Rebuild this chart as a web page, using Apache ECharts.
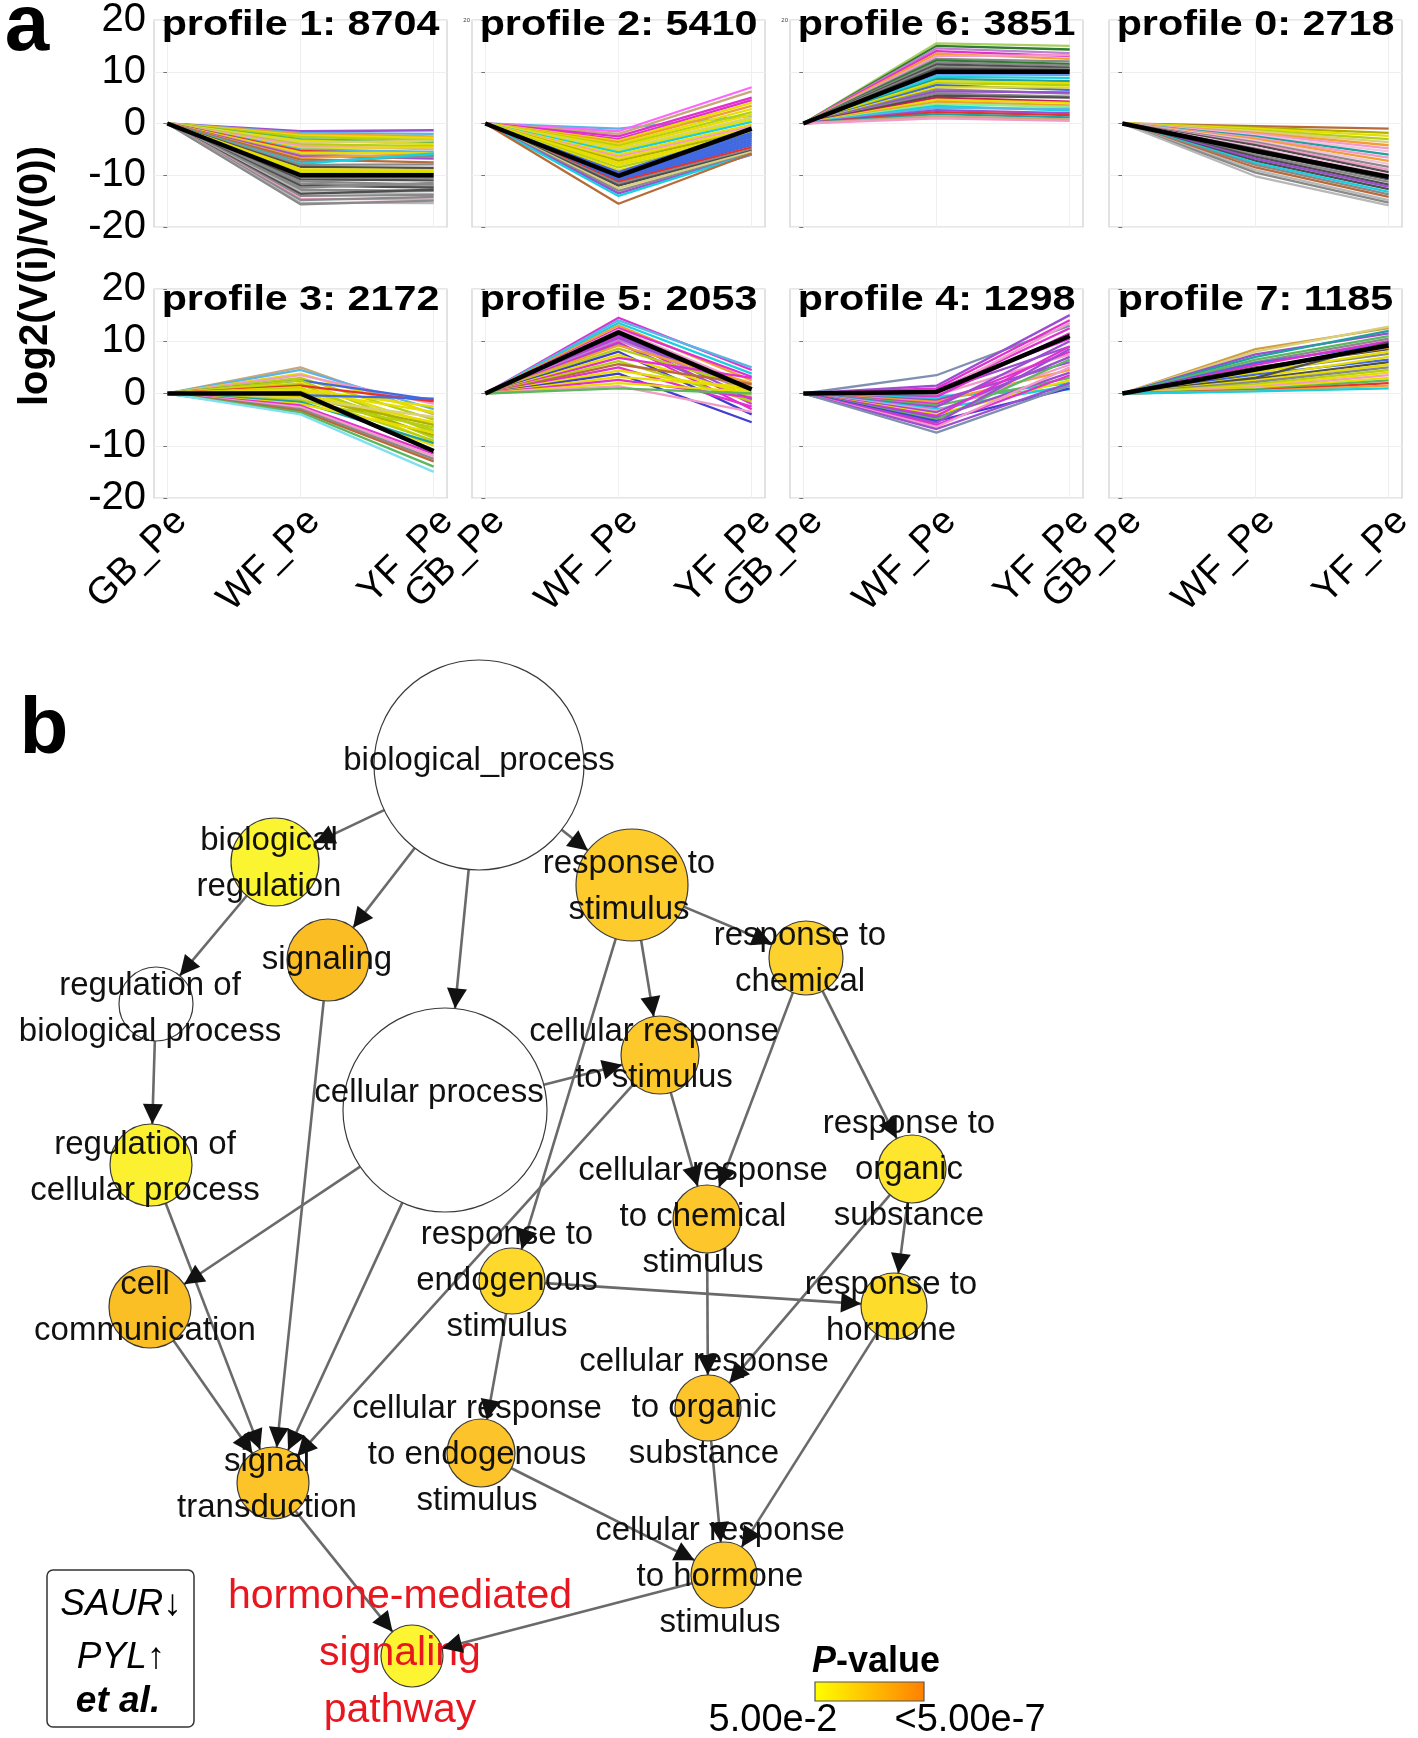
<!DOCTYPE html>
<html><head><meta charset="utf-8">
<script src="https://cdn.jsdelivr.net/npm/echarts@6/dist/echarts.min.js"></script>
<style>html,body{margin:0;padding:0;background:#fff}#c{width:1418px;height:1738px}</style>
</head><body><div id="c"></div>
<script>
const FONT = '"Liberation Sans", Arial, Helvetica, sans-serif';

// ---------------- Panel a data ----------------
const categories = ['GB_Pe', 'WF_Pe', 'YF_Pe'];
const profileIds = [1, 2, 6, 0, 3, 5, 4, 7];
const geneCounts = [8704, 5410, 3851, 2718, 2172, 2053, 1298, 1185];
const yTickValues = [-20, -10, 0, 10, 20];
const meanProfiles = [
  [0, -10, -10], [0, -10.1, -1], [0, 10, 10], [0, -5.3, -10.3],
  [0, 0, -11], [0, 11.7, 0.8], [0, 0.3, 11], [0, 4.6, 9.2]
];

const p1Lines = [[0,-1.5,-1.3],[0,-1.8,-2.0],[0,-2.0,-2.5],[0,-2.3,-2.8],[0,-2.6,-3.2],[0,-3.0,-3.6],[0,-3.3,-4.0],[0,-3.7,-3.3],[0,-4.0,-4.4],[0,-4.3,-5.0],[0,-4.7,-4.6],[0,-5.0,-5.5],[0,-5.3,-6.0],[0,-5.6,-5.8],[0,-6.0,-6.4],[0,-6.3,-6.8],[0,-6.7,-5.9],[0,-7.0,-7.5],[0,-7.4,-6.3],[0,-7.8,-5.8],[0,-8.0,-7.9],[0,-8.4,-8.6],[0,-8.8,-9.0],[0,-9.1,-9.3],[0,-9.4,-9.5],[0,-9.7,-9.7],[0,-10.4,-10.5],[0,-10.8,-11.0],[0,-11.2,-11.8],[0,-11.6,-12.2],[0,-12.0,-12.4],[0,-12.4,-11.5],[0,-12.8,-13.0],[0,-13.2,-13.6],[0,-13.6,-12.8],[0,-14.0,-13.8],[0,-14.5,-14.7],[0,-14.8,-14.2],[0,-15.3,-15.4],[0,-15.6,-14.9]];
const p1Colors = ['PU','SB','OR','Y','YG','GN','Y','KH','YG','PK','Y','SB','RD','Y','TN','PU','OR','BR','GR','CY','GR','DG','Y','Y','Y','YG','GR','DG','GR','GR','DG','GR','GR','LG','DG','GR','PK','GR','LG','GR'];

const p2Lines = [[0,-1.0,1.5],[0,-1.5,7.0],[0,-2.0,6.2],[0,-2.5,5.0],[0,-3.0,4.5],[0,-3.3,4.0],[0,-3.6,3.4],[0,-4.0,2.8],[0,-4.3,2.2],[0,-4.6,1.7],[0,-5.0,1.2],[0,-5.3,0.8],[0,-5.6,0.3],[0,-6.0,-0.2],[0,-6.4,-0.6],[0,-6.8,-1.0],[0,-7.2,-1.4],[0,-7.6,-1.8],[0,-8.0,-2.2],[0,-8.5,-2.6],[0,-9.0,-3.0],[0,-9.4,-1.2],[0,-9.7,-1.8],[0,-10.2,-2.2],[0,-10.4,-2.6],[0,-10.6,-3.0],[0,-10.8,-3.4],[0,-11.0,-3.8],[0,-11.1,-4.2],[0,-11.3,-4.6],[0,-11.6,-5.0],[0,-12.0,-5.3],[0,-12.5,-5.5],[0,-13.0,-5.8],[0,-13.5,-6.0],[0,-14.0,-5.9],[0,-15.5,-5.8]];
const p2Colors = ['SB','PM','TN','MG','MG','Y','OR','Y','YG','Y','KH','Y','CY','Y','PK','Y','OL','Y','Y','YG','Y','BL','BL','BL','BL','BL','BL','BL','BL','RD','GR','DG','KH','GR','PU','CY','BR'];

const p6Lines = [[0,15.5,15.0],[0,15.0,14.3],[0,14.5,13.6],[0,14.0,13.0],[0,13.5,12.5],[0,13.0,13.2],[0,12.5,12.0],[0,12.2,11.5],[0,11.8,11.2],[0,11.4,10.8],[0,11.0,10.5],[0,10.6,10.3],[0,9.5,9.4],[0,9.0,8.8],[0,8.6,8.2],[0,8.2,7.8],[0,7.8,7.4],[0,7.4,6.5],[0,7.0,7.0],[0,6.6,5.8],[0,6.2,6.0],[0,5.8,5.2],[0,5.4,5.0],[0,5.0,4.2],[0,4.6,4.0],[0,4.2,3.5],[0,3.8,3.2],[0,3.4,2.5],[0,3.0,2.8],[0,2.6,2.0],[0,2.2,1.6],[0,1.8,1.2],[0,1.4,0.8],[0,1.0,0.5]];
const p6Colors = ['LY','DN','VI','MG','OR','PK','GR','DN','GR','DG','GR','DG','CB','CY','TL','Y','YG','BL','Y','GR','PU','GR','DG','CR','Y','OR','LN','CY','SB','PU','RD','TL','TN','PK'];

const p0Lines = [[0,-0.5,-1.0],[0,-0.8,-1.8],[0,-1.0,-2.4],[0,-1.3,-3.0],[0,-1.5,-3.6],[0,-1.8,-4.2],[0,-2.0,-4.8],[0,-2.3,-5.4],[0,-2.5,-6.0],[0,-2.8,-6.6],[0,-3.0,-7.2],[0,-3.3,-7.8],[0,-3.6,-8.4],[0,-3.9,-8.9],[0,-4.2,-9.4],[0,-4.6,-9.9],[0,-4.9,-10.3],[0,-5.6,-10.8],[0,-6.0,-11.3],[0,-6.4,-11.8],[0,-6.8,-12.2],[0,-7.2,-12.7],[0,-7.6,-13.2],[0,-8.0,-13.7],[0,-8.5,-14.2],[0,-9.0,-14.8],[0,-9.5,-15.3],[0,-10.2,-15.8]];
const p0Colors = ['BR','OL','Y','YG','KH','OR','PK','LP','TL','PK','OR','LP','GR','PK','DG','LP','DG','DG','GR','DG','PU','DG','CY','GR','BR','LG','GR','LG'];

const p3Lines = [[0,5.0,-4.0],[0,4.5,-3.0],[0,3.8,-3.8],[0,3.5,-2.0],[0,3.0,-5.0],[0,2.5,-1.2],[0,2.5,-7.5],[0,2.0,-6.0],[0,1.8,-8.5],[0,1.5,-1.5],[0,1.2,-9.2],[0,1.0,-7.0],[0,0.8,-2.5],[0,0.5,-3.5],[0,0.3,-8.0],[0,-0.2,-5.5],[0,-0.3,-1.0],[0,-0.5,-9.0],[0,-0.6,-6.0],[0,-0.8,-10.0],[0,-1.0,-4.5],[0,-1.3,-6.5],[0,-1.6,-9.5],[0,-2.0,-7.5],[0,-2.3,-11.5],[0,-2.6,-12.0],[0,-3.0,-12.5],[0,-3.3,-13.0],[0,-3.6,-14.0],[0,-4.0,-15.0]];
const p3Colors = ['TN','SB','Y','PK','YG','BL','YG','Y','YG','RD','Y','YG','Y','Y','OL','Y','BL','YG','OL','Y','KH','YG','TL','Y','MG','PK','GR','BR','GN','LC'];

const p5Lines = [[0,14.5,4.5],[0,14.0,5.0],[0,13.5,3.8],[0,13.0,2.5],[0,12.5,3.2],[0,12.2,1.5],[0,11.2,-1.0],[0,11.0,0.5],[0,10.8,-2.0],[0,10.5,1.0],[0,10.2,0.2],[0,9.8,-3.0],[0,9.5,-1.2],[0,9.2,2.0],[0,8.6,1.0],[0,8.0,-4.0],[0,7.4,-0.5],[0,6.8,3.0],[0,6.2,-1.5],[0,5.6,1.8],[0,5.0,-2.5],[0,4.4,0.5],[0,3.8,-5.5],[0,3.2,1.2],[0,2.6,-0.8],[0,2.0,0.3],[0,1.4,-3.5],[0,1.0,0.0]];
const p5Colors = ['MG','SB','CY','OR','MG','PK','PU','PU','MG','PU','VI','MG','PU','OR','YG','B2','Y','MG','YG','BR','MG','Y','B2','Y','MG','Y','PK','GN'];

const p4Lines = [[0,3.5,13.0],[0,1.5,15.0],[0,1.0,14.0],[0,0.8,10.5],[0,0.5,12.5],[0,0.3,9.0],[0,0.2,13.5],[0,-0.3,7.5],[0,-0.5,0.8],[0,-0.6,11.5],[0,-1.0,2.0],[0,-1.3,6.0],[0,-1.6,4.5],[0,-2.0,8.0],[0,-2.3,3.0],[0,-2.6,10.0],[0,-3.0,1.5],[0,-3.3,5.5],[0,-3.6,7.0],[0,-4.0,2.5],[0,-4.3,9.0],[0,-4.6,4.0],[0,-5.0,6.5],[0,-5.3,1.0],[0,-5.6,8.5],[0,-6.0,3.5],[0,-6.4,5.0],[0,-6.8,2.0],[0,-7.5,1.5]];
const p4Colors = ['SL','PU','MG','MG','MG','PU','PK','PK','CY','MG','CY','PU','OR','MG','GN','PU','CY','PK','PU','Y','MG','PU','GN','B2','PU','MG','PK','PU','SL'];

const p7Lines = [[0,8.5,12.5],[0,8.0,12.8],[0,7.5,11.5],[0,7.0,12.0],[0,6.5,11.0],[0,6.0,10.5],[0,5.8,9.5],[0,5.5,10.0],[0,5.0,8.5],[0,4.8,8.8],[0,4.2,7.6],[0,4.0,8.0],[0,3.6,6.5],[0,3.2,7.0],[0,3.0,9.8],[0,2.8,6.0],[0,2.5,5.5],[0,2.2,5.0],[0,1.8,4.5],[0,1.5,4.0],[0,1.2,3.5],[0,1.0,3.0],[0,0.8,2.5],[0,0.6,2.0],[0,0.5,1.5],[0,0.4,1.0]];
const p7Colors = ['GO','KH','PU','TL','GN','GR','BL','MG','DG','OR','GR','Y','BL','Y','DG','DG','Y','GR','YG','Y','PK','Y','GN','RD','OR','CY'];

// ---------------- Panel b data ----------------
const nodeLabels = ['biological_process','biological\nregulation','signaling','response to\nstimulus','response to\nchemical','regulation of\nbiological process','cellular process','cellular response\nto stimulus','regulation of\ncellular process','response to\norganic\nsubstance','cellular response\nto chemical\nstimulus','response to\nendogenous\nstimulus','cell\ncommunication','response to\nhormone','cellular response\nto organic\nsubstance','cellular response\nto endogenous\nstimulus','signal\ntransduction','cellular response\nto hormone\nstimulus','hormone-mediated\nsignaling\npathway'];
// layout of the network (node centres and radii)
const nodeX = [479, 275, 328, 632, 806, 156, 445, 660, 151, 912, 707, 512, 150, 894, 708, 481, 273, 724, 412];
const nodeY = [765, 862, 960, 885, 958, 1004, 1110, 1055, 1165, 1169, 1219, 1281, 1307, 1306, 1408, 1453, 1483, 1575, 1656];
const nodeR = [105, 44, 41, 56, 37, 37, 102, 39, 41, 34, 34, 33, 41, 33, 33, 34, 36, 33, 31];
const edges = [[0,1],[0,2],[0,6],[0,3],[1,5],[5,8],[3,4],[3,7],[3,11],[6,7],[6,12],[6,16],[4,9],[4,10],[7,10],[7,16],[2,16],[8,16],[12,16],[9,13],[9,14],[11,13],[11,15],[10,14],[13,17],[14,17],[15,17],[16,18],[17,18]];

// ---------------- styles ----------------
const C = {Y:'#e6de00',YG:'#b5cf12',KH:'#d9cf7c',GR:'#8a8a8a',DG:'#4e4e4e',LG:'#b8b8b8',BL:'#4169e1',B2:'#3f3fd0',SB:'#5ab4e6',CY:'#18d0e0',MG:'#e030d0',PM:'#ff66ff',PK:'#f29ac8',LP:'#f2c4dc',PU:'#9b4fd0',VI:'#c080d0',RD:'#e8312c',OR:'#f0a030',BR:'#b86b3a',GN:'#5cb85c',DN:'#2e7d32',LN:'#90ee90',LY:'#a8d060',TN:'#c8a878',TL:'#20a0a0',OL:'#b0b000',CB:'#6495ed',CR:'#c81e5a',SL:'#8090b0',GO:'#d0a040',LC:'#80e0f0'};
const nodeColors = ['#ffffff','#fbf431','#fbbd24','#fdcb2c','#fed22e','#ffffff','#ffffff','#fdc82b','#fbf130','#fde62d','#fdc62b','#fed82a','#fbbf26','#fedc2c','#fdc52b','#fcc42a','#fdc42a','#fdc92c','#fdf532'];
const labelDX = [0,-6,-1,-3,-6,-6,-16,-6,-6,-3,-4,-5,-5,-3,-4,-4,-6,-4,-12];
const labelDY = [-4,2,0,2,1,5,-17,0,3,1,-2,0,1,2,0,2,2,2,-2];

const profileLines = [p1Lines, p2Lines, p6Lines, p0Lines, p3Lines, p5Lines, p4Lines, p7Lines];
const profileColors = [p1Colors, p2Colors, p6Colors, p0Colors, p3Colors, p5Colors, p4Colors, p7Colors];
const panelLeft = [154, 472, 790, 1109];
const panelTop = [20, 289];
const panelHeight = [207, 209];
const panelWidth = 293;

const grids = [], xAxes = [], yAxes = [], series = [], graphics = [];

profileLines.forEach((lines, i) => {
  const row = Math.floor(i / 4), col = i % 4;
  grids.push({left: panelLeft[col], top: panelTop[row], width: panelWidth, height: panelHeight[row],
    show: true, borderColor: '#cfcfcf', borderWidth: 1.2, backgroundColor: '#fff'});
  xAxes.push({gridIndex: i, type: 'value', min: -0.1, max: 2.1,
    axisLine: {show: false}, splitLine: {show: false},
    axisTick: {show: true, customValues: [0, 1, 2], length: 4, lineStyle: {color: '#777'}},
    axisLabel: {show: row === 1, customValues: [0, 1, 2], formatter: v => categories[Math.round(v)],
      rotate: 45, verticalAlign: 'top', fontSize: 38, color: '#000', fontFamily: FONT, margin: 4}});
  const tiny = row === 0 && (col === 1 || col === 2);
  yAxes.push({gridIndex: i, type: 'value', min: -20, max: 20, interval: 5,
    axisLine: {show: false},
    splitLine: {show: true, lineStyle: {color: '#efefef', width: 1}},
    axisTick: {show: true, customValues: yTickValues, length: 4, lineStyle: {color: '#777'}},
    axisLabel: {show: col === 0 || tiny, customValues: col === 0 ? yTickValues : [20],
      fontSize: col === 0 ? 40 : 6, color: col === 0 ? '#000' : '#444', fontFamily: FONT, margin: col === 0 ? 8 : 2}});
  series.push({type: 'line', xAxisIndex: i, yAxisIndex: i, data: [], silent: true, z: 1,
    markLine: {silent: true, symbol: 'none', z: 1, label: {show: false}, animation: false,
      lineStyle: {color: '#efefef', width: 1, type: 'solid'}, data: [{xAxis: 0}, {xAxis: 1}, {xAxis: 2}]}});
  lines.forEach((vals, j) => {
    series.push({type: 'line', xAxisIndex: i, yAxisIndex: i, data: vals.map((v, k) => [k, v]),
      symbol: 'none', silent: true, z: 2, lineStyle: {width: 2.3, color: C[profileColors[i][j]]}});
  });
  series.push({type: 'line', xAxisIndex: i, yAxisIndex: i, data: meanProfiles[i].map((v, k) => [k, v]),
    symbol: 'none', silent: true, z: 3, lineStyle: {width: 4.5, color: '#000'}});
  graphics.push({type: 'text', x: panelLeft[col] + panelWidth / 2, y: row === 0 ? 25 : 300, scaleX: 1.18, z: 10,
    style: {text: 'profile ' + profileIds[i] + ': ' + geneCounts[i], fontSize: 35, fontWeight: 'bold',
      fontFamily: FONT, fill: '#000', textAlign: 'center', textVerticalAlign: 'middle'}});
});

// network panel
grids.push({left: 0, top: 0, width: 1418, height: 1738, show: false});
xAxes.push({gridIndex: 8, type: 'value', min: 0, max: 1418, show: false});
yAxes.push({gridIndex: 8, type: 'value', min: 0, max: 1738, inverse: true, show: false});

const ARROW = 20;
const links = edges.map(([s, t]) => ({source: s, target: t}));
series.push({
  type: 'graph', coordinateSystem: 'cartesian2d', xAxisIndex: 8, yAxisIndex: 8, layout: 'none',
  silent: true, z: 4, emphasis: {disabled: true},
  data: nodeLabels.map((lab, i) => {
    const red = i === 18;
    return {name: lab.replace(/\n/g, ' '), value: [nodeX[i], nodeY[i]], symbolSize: nodeR[i] * 2,
      itemStyle: {color: nodeColors[i], borderColor: '#3a3a3a', borderWidth: 1.2},
      label: {show: true, position: 'inside', formatter: lab, offset: [labelDX[i], labelDY[i]],
        color: red ? '#e8161f' : '#111', fontSize: red ? 41 : 33, lineHeight: red ? 57 : 46, fontFamily: FONT}};
  }),
  links: links,
  edgeSymbol: ['circle', 'circle'], edgeSymbolSize: 1,
  lineStyle: {color: '#6a6a6a', width: 2.6, opacity: 1, curveness: 0}
});
series.push({
  type: 'graph', coordinateSystem: 'cartesian2d', xAxisIndex: 8, yAxisIndex: 8, layout: 'none',
  silent: true, z: 5, emphasis: {disabled: true},
  data: nodeLabels.map((lab, i) => ({name: lab.replace(/\n/g, ' '), value: [nodeX[i], nodeY[i]], symbolSize: nodeR[i] * 2 + ARROW})),
  itemStyle: {color: 'rgba(0,0,0,0)', borderWidth: 0},
  label: {show: false},
  links: links,
  edgeSymbol: ['none', 'triangle'], edgeSymbolSize: ARROW,
  lineStyle: {color: '#111', width: 0, opacity: 1, curveness: 0}
});

// annotations
graphics.push(
  {type: 'text', x: 27, y: 28, style: {text: 'a', fontSize: 80, fontWeight: 'bold', fontFamily: FONT, fill: '#000', textAlign: 'center', textVerticalAlign: 'middle'}},
  {type: 'text', x: 44, y: 731, style: {text: 'b', fontSize: 80, fontWeight: 'bold', fontFamily: FONT, fill: '#000', textAlign: 'center', textVerticalAlign: 'middle'}},
  {type: 'text', x: 36, y: 276, rotation: Math.PI / 2, style: {text: 'log2(V(i)/V(0))', fontSize: 40, fontWeight: 'bold', fontFamily: FONT, fill: '#000', textAlign: 'center', textVerticalAlign: 'middle'}},
  {type: 'rect', shape: {x: 47, y: 1570, width: 147, height: 157, r: 6}, style: {fill: '#fff', stroke: '#333', lineWidth: 1.5}, z: 10},
  {type: 'text', x: 121, y: 1605, z: 11, style: {text: '{i|SAUR}{n|↓}', textAlign: 'center', textVerticalAlign: 'middle',
    rich: {i: {fontSize: 37, fontStyle: 'italic', fontFamily: FONT, fill: '#000'}, n: {fontSize: 37, fontFamily: FONT, fill: '#000'}}}},
  {type: 'text', x: 121, y: 1658, z: 11, style: {text: '{i|PYL}{n|↑}', textAlign: 'center', textVerticalAlign: 'middle',
    rich: {i: {fontSize: 37, fontStyle: 'italic', fontFamily: FONT, fill: '#000'}, n: {fontSize: 37, fontFamily: FONT, fill: '#000'}}}},
  {type: 'text', x: 118, y: 1702, z: 11, style: {text: 'et al.', fontSize: 37, fontStyle: 'italic', fontWeight: 'bold', fontFamily: FONT, fill: '#000', textAlign: 'center', textVerticalAlign: 'middle'}},
  {type: 'text', x: 876, y: 1662, z: 11, style: {text: '{i|P}{n|-value}', textAlign: 'center', textVerticalAlign: 'middle',
    rich: {i: {fontSize: 36, fontStyle: 'italic', fontWeight: 'bold', fontFamily: FONT, fill: '#000'}, n: {fontSize: 36, fontWeight: 'bold', fontFamily: FONT, fill: '#000'}}}},
  {type: 'rect', z: 11, shape: {x: 815, y: 1682, width: 109, height: 19},
    style: {stroke: '#555', lineWidth: 1.2, fill: new echarts.graphic.LinearGradient(0, 0, 1, 0, [{offset: 0, color: '#ffff00'}, {offset: 0.5, color: '#ffc000'}, {offset: 1, color: '#ff7f00'}])}},
  {type: 'text', x: 773, y: 1721, z: 11, style: {text: '5.00e-2', fontSize: 38, fontFamily: FONT, fill: '#000', textAlign: 'center', textVerticalAlign: 'middle'}},
  {type: 'text', x: 970, y: 1721, z: 11, style: {text: '<5.00e-7', fontSize: 38, fontFamily: FONT, fill: '#000', textAlign: 'center', textVerticalAlign: 'middle'}}
);

const chart = echarts.init(document.getElementById('c'), null, {renderer: 'canvas'});
chart.setOption({
  animation: false,
  backgroundColor: '#fff',
  grid: grids, xAxis: xAxes, yAxis: yAxes, series: series,
  graphic: {elements: graphics}
});
</script></body></html>
